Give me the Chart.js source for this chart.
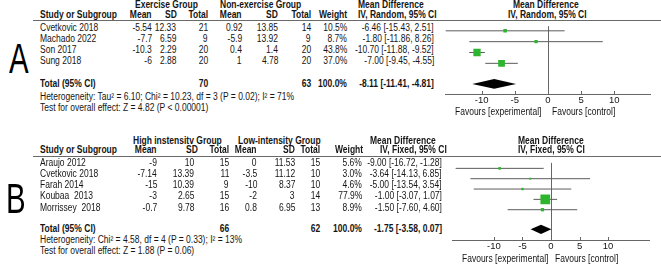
<!DOCTYPE html>
<html>
<head>
<meta charset="utf-8">
<script src="https://cdn.jsdelivr.net/npm/chart.js@4.4.1/dist/chart.umd.min.js"></script>
<style>
  body { margin: 0; width: 661px; height: 266px; background: #fff; position: relative; overflow: hidden;
         font-family: "Liberation Sans", Arial, sans-serif; color: #151515; }
  .t { position: absolute; font-size: 10px; line-height: 10px; white-space: pre; }
  .b { font-weight: bold; }
  .rule { position: absolute; height: 1px; background: #6a6a6a; }
  .big { position: absolute; font-size: 42px; line-height: 42px; color: #000; transform: scaleX(0.7); transform-origin: left; }
  canvas { position: absolute; }
</style>
</head>
<body>
<canvas id="plotA" width="216" height="91" style="left:440px;top:21px"></canvas>
<canvas id="plotB" width="210" height="102" style="left:446px;top:156px"></canvas>
<script>
// Panel A: exercise vs non-exercise (random effects)
const studiesA  = ["Cvetkovic 2018", "Machado 2022", "Son 2017", "Sung 2018"]
const exMeanA   = [-5.54, -7.7, -10.3, -6]
const exSdA     = [12.33, 6.59, 2.29, 2.88]
const exNA      = [21, 9, 20, 20]
const nonMeanA  = [0.92, -5.9, 0.4, 1]
const nonSdA    = [13.85, 13.92, 1.4, 4.78]
const nonNA     = [14, 9, 20, 20]
const weightA   = [10.5, 8.7, 43.8, 37.0]
const mdA       = [-6.46, -1.80, -10.70, -7.00]
const loA       = [-15.43, -11.86, -11.88, -9.45]
const hiA       = [2.51, 8.26, -9.52, -4.55]
const totalA    = [-8.11, -11.41, -4.81]   // md, lo, hi
const sumNA     = [70, 63]

// Panel B: high vs low intensity (fixed effect)
const studiesB  = ["Araujo 2012", "Cvetkovic 2018", "Farah 2014", "Koubaa  2013", "Morrissey  2018"]
const hiMeanB   = [-9, -7.14, -15, -3, -0.7]
const hiSdB     = [10, 13.39, 10.39, 2.65, 9.78]
const hiNB      = [15, 11, 9, 15, 16]
const lowMeanB  = [0, -3.5, -10, -2, 0.8]
const lowSdB    = [11.53, 11.12, 8.37, 3, 6.95]
const lowNB     = [15, 10, 10, 14, 13]
const weightB   = [5.6, 3.0, 4.6, 77.9, 8.9]
const mdB       = [-9.00, -3.64, -5.00, -1.00, -1.50]
const loB       = [-16.72, -14.13, -13.54, -3.07, -7.60]
const hiB       = [-1.28, 6.85, 3.54, 1.07, 4.60]
const totalB    = [-1.75, -3.58, 0.07]
const sumNB     = [66, 62]

const tickValues = [-10, -5, 0, 5, 10]

const ci = (m, l, h) => `${m.toFixed(2)} [${l.toFixed(2)}, ${h.toFixed(2)}]`

function put(text, x, y, align = "left", bold = false) {
  const d = document.createElement("div")
  d.className = "t" + (bold ? " b" : "")
  d.textContent = text
  d.style.top = (y - 6.3) + "px"
  if (align === "right") {
    d.style.right = (661 - x) + "px"
    d.style.transformOrigin = "right"
  } else {
    d.style.left = x + "px"
    d.style.transformOrigin = "left"
  }
  d.style.transform = "scaleX(0.85)"
  document.body.appendChild(d)
}

function rule(x, y) {
  const d = document.createElement("div")
  d.className = "rule"
  d.style.left = x + "px"
  d.style.top = y + "px"
  d.style.width = (661 - x) + "px"
  document.body.appendChild(d)
}

function big(letter, x, y) {
  const d = document.createElement("div")
  d.className = "big"
  d.textContent = letter
  d.style.left = x + "px"
  d.style.top = y + "px"
  document.body.appendChild(d)
}

function table(p) {
  const cols = p.cols
  put(p.g1, p.g1x, p.h1, "left", true)
  put(p.g2, p.g2x, p.h1, "left", true)
  put("Mean Difference", p.mdx, p.h1, "left", true)
  put("Mean Difference", p.mdx2, p.h1, "left", true)
  put("Study or Subgroup", 40, p.h2, "left", true)
  const heads = ["Mean", "SD", "Total", "Mean", "SD", "Total", "Weight"]
  heads.forEach((h, i) => put(h, p.headCols[i], p.h2, "right", true))
  put(p.method, p.ivx, p.h2, "left", true)
  put(p.method, p.ivx2, p.h2, "left", true)
  rule(33, p.rule)

  p.studies.forEach((s, i) => {
    const y = p.rows[i]
    put(s, 40, y)
    const vals = [p.m1[i], p.sd1[i], p.n1[i], p.m2[i], p.sd2[i], p.n2[i], p.w[i].toFixed(1) + "%",
                  ci(p.md[i], p.lo[i], p.hi[i])]
    vals.forEach((v, j) => put(String(v), cols[j], y, "right"))
  })
  put("Total (95% CI)", 40, p.totalY, "left", true)
  put(String(p.sumN[0]), cols[2], p.totalY, "right", true)
  put(String(p.sumN[1]), cols[5], p.totalY, "right", true)
  put("100.0%", cols[6], p.totalY, "right", true)
  put(ci(p.total[0], p.total[1], p.total[2]), cols[7], p.totalY, "right", true)
  put(p.het, 40, p.hetY)
  put(p.test, 40, p.testY)
  put("Favours [experimental]", p.favX[0], p.favY)
  put("Favours [control]", p.favX[1], p.favY)
}

table({
  g1: "Exercise Group", g1x: 135, g2: "Non-exercise Group", g2x: 220,
  mdx: 358, mdx2: 513, ivx: 358, ivx2: 508, method: "IV, Random, 95% CI",
  h1: 6.5, h2: 16.5, rule: 20,
  headCols: [152, 177, 208, 242, 278, 311, 347],
  cols: [152, 176, 208, 242, 278, 311, 347, 434],
  rows: [29, 40.7, 51.7, 62.7], totalY: 85.3, hetY: 98.3, testY: 109,
  studies: studiesA, m1: exMeanA, sd1: exSdA, n1: exNA, m2: nonMeanA, sd2: nonSdA, n2: nonNA,
  w: weightA, md: mdA, lo: loA, hi: hiA, total: totalA, sumN: sumNA,
  het: "Heterogeneity: Tau² = 6.10; Chi² = 10.23, df = 3 (P = 0.02); I² = 71%",
  test: "Test for overall effect: Z = 4.82 (P < 0.00001)",
  favX: [455, 552], favY: 113.5
})

table({
  g1: "High instensitv Group", g1x: 133, g2: "Low-intensity Group", g2x: 238,
  mdx: 370, mdx2: 518, ivx: 380, ivx2: 518, method: "IV, Fixed, 95% CI",
  h1: 142, h2: 151.7, rule: 156,
  headCols: [157, 198, 229, 257, 295, 320, 363],
  cols: [157, 194, 229, 257, 295, 320, 362, 442],
  rows: [164.3, 175.7, 186.7, 197.7, 209], totalY: 230, hetY: 241.7, testY: 252.3,
  studies: studiesB, m1: hiMeanB, sd1: hiSdB, n1: hiNB, m2: lowMeanB, sd2: lowSdB, n2: lowNB,
  w: weightB, md: mdB, lo: loB, hi: hiB, total: totalB, sumN: sumNB,
  het: "Heterogeneity: Chi² = 4.58, df = 4 (P = 0.33); I² = 13%",
  test: "Test for overall effect: Z = 1.88 (P = 0.06)",
  favX: [462, 555], favY: 260.5
})

big("A", 9, 37.5)
big("B", 6, 177.5)

// zero line, upward tick marks and the pooled diamond
const forestExtras = {
  id: "forestExtras",
  beforeDatasetsDraw(chart) {
    const { ctx, chartArea, scales: { x } } = chart
    ctx.save()
    ctx.strokeStyle = "#666"
    ctx.lineWidth = 1
    const x0 = Math.round(x.getPixelForValue(0)) + 0.5
    ctx.beginPath()
    ctx.moveTo(x0, chartArea.top)
    ctx.lineTo(x0, chartArea.bottom)
    x.ticks.forEach(t => {
      const px = Math.round(x.getPixelForValue(t.value)) + 0.5
      ctx.moveTo(px, chartArea.bottom - 3)
      ctx.lineTo(px, chartArea.bottom)
    })
    ctx.stroke()
    ctx.restore()
  },
  afterDatasetsDraw(chart, args, opts) {
    const { ctx, scales: { x, y } } = chart
    const [m, l, h] = opts.total
    const yc = y.getPixelForValue(opts.row)
    const half = Math.abs(y.getPixelForValue(opts.row + 0.45) - yc)
    ctx.save()
    ctx.fillStyle = "#000"
    ctx.beginPath()
    ctx.moveTo(x.getPixelForValue(l), yc)
    ctx.lineTo(x.getPixelForValue(m), yc - half)
    ctx.lineTo(x.getPixelForValue(h), yc)
    ctx.lineTo(x.getPixelForValue(m), yc + half)
    ctx.closePath()
    ctx.fill()
    ctx.restore()
  }
}

function forest(id, md, lo, hi, w, total, xLim, yMin, yMax) {
  const rows = md.map((_, i) => i + 1)
  const datasets = [{
    data: md.map((v, i) => ({ x: v, y: rows[i] })),
    pointStyle: "rect",
    pointRadius: w.map(v => Math.max(1.3, 0.78 * Math.sqrt(v))),
    backgroundColor: "#2eb52e",
    borderWidth: 0
  }]
  md.forEach((_, i) => datasets.push({
    data: [{ x: lo[i], y: rows[i] }, { x: hi[i], y: rows[i] }],
    showLine: true,
    borderColor: "#5c5c5c",
    borderWidth: 1,
    pointRadius: 0
  }))

  new Chart(document.getElementById(id), {
    type: "scatter",
    data: { datasets },
    plugins: [forestExtras],
    options: {
      responsive: false,
      animation: false,
      events: [],
      devicePixelRatio: 1,
      layout: { padding: { left: 2, right: 3, top: 0, bottom: 0 } },
      plugins: {
        legend: { display: false },
        tooltip: { enabled: false },
        forestExtras: { total, row: md.length + 1.9 }
      },
      scales: {
        x: {
          type: "linear",
          min: -xLim,
          max: xLim,
          afterBuildTicks: s => { s.ticks = tickValues.map(v => ({ value: v })) },
          afterFit: s => { s.height = 18 },
          grid: { display: false, drawTicks: false, tickLength: 0 },
          border: { display: true, color: "#666", width: 1 },
          ticks: { color: "#151515", padding: 1, font: { family: "Liberation Sans, Arial", size: 9.5 } }
        },
        y: { type: "linear", display: false, reverse: true, min: yMin, max: yMax }
      }
    }
  })
}

forest("plotA", mdA, loA, hiA, weightA, totalA, 15.5, 0.57, 6.83)
forest("plotB", mdB, loB, hiB, weightB, totalB, 17.2, 0.47, 7.93)
</script>
</body>
</html>
